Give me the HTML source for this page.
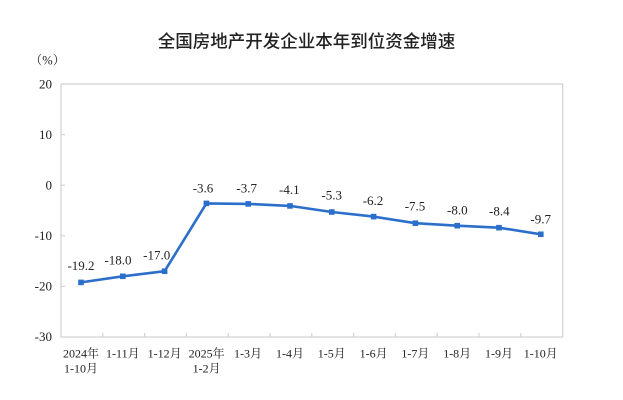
<!DOCTYPE html>
<html><head><meta charset="utf-8"><style>
html,body{margin:0;padding:0;background:#fff;}
svg{display:block;}
.t{font-family:"Liberation Serif","Noto Serif CJK SC",serif;fill:#222;}
</style></head><body>
<svg width="623" height="400" viewBox="0 0 623 400" xmlns="http://www.w3.org/2000/svg">
<rect x="0" y="0" width="623" height="400" fill="#fff"/>
<text x="306.5" y="47.5" text-anchor="middle" font-family="'Liberation Sans','Noto Sans CJK SC',sans-serif" font-size="17.5" font-weight="500" fill="#222">全国房地产开发企业本年到位资金增速</text>
<text x="47.5" y="64.5" text-anchor="middle" class="t" font-size="12.5">（%）</text>
<!-- plot frame -->
<rect x="61" y="84" width="501.7" height="253" fill="none" stroke="#d4d4d4" stroke-width="1.3"/>
<!-- y ticks -->
<g stroke="#d4d4d4" stroke-width="1.2">
<line x1="61" y1="134.6" x2="65" y2="134.6"/>
<line x1="61" y1="185.2" x2="65" y2="185.2"/>
<line x1="61" y1="235.8" x2="65" y2="235.8"/>
<line x1="61" y1="286.4" x2="65" y2="286.4"/>
<line x1="102.8" y1="337" x2="102.8" y2="333"/>
<line x1="144.6" y1="337" x2="144.6" y2="333"/>
<line x1="186.4" y1="337" x2="186.4" y2="333"/>
<line x1="228.2" y1="337" x2="228.2" y2="333"/>
<line x1="270" y1="337" x2="270" y2="333"/>
<line x1="311.8" y1="337" x2="311.8" y2="333"/>
<line x1="353.6" y1="337" x2="353.6" y2="333"/>
<line x1="395.4" y1="337" x2="395.4" y2="333"/>
<line x1="437.2" y1="337" x2="437.2" y2="333"/>
<line x1="479" y1="337" x2="479" y2="333"/>
<line x1="520.8" y1="337" x2="520.8" y2="333"/>
</g>
<g class="t" font-size="13" text-anchor="end">
<text x="52" y="88.5">20</text>
<text x="52" y="139">10</text>
<text x="52" y="189.5">0</text>
<text x="52" y="240">-10</text>
<text x="52" y="290.5">-20</text>
<text x="52" y="341">-30</text>
</g>
<!-- x labels -->
<g class="t" font-size="12" text-anchor="middle">
<text x="81" y="357.5">2024年</text>
<text x="81" y="372.5">1-10月</text>
<text x="122.8" y="357.5">1-11月</text>
<text x="164.6" y="357.5">1-12月</text>
<text x="206.6" y="357.5">2025年</text>
<text x="206.6" y="372.5">1-2月</text>
<text x="248" y="357.5">1-3月</text>
<text x="290" y="357.5">1-4月</text>
<text x="331.8" y="357.5">1-5月</text>
<text x="373.6" y="357.5">1-6月</text>
<text x="415.4" y="357.5">1-7月</text>
<text x="457.2" y="357.5">1-8月</text>
<text x="499" y="357.5">1-9月</text>
<text x="540.8" y="357.5">1-10月</text>
</g>
<!-- series -->
<polyline fill="none" stroke="#2b6fcb" stroke-width="2.6" stroke-linejoin="round"
points="81,282.4 122.8,276.3 164.6,271.2 206.4,203.4 248.2,203.9 290,205.9 331.8,212 373.6,216.6 415.4,223.2 457.2,225.7 499,227.7 540.8,234.3"/>
<g fill="#2b6fcb">
<rect x="78.2" y="279.6" width="5.6" height="5.6"/>
<rect x="120" y="273.5" width="5.6" height="5.6"/>
<rect x="161.8" y="268.4" width="5.6" height="5.6"/>
<rect x="203.6" y="200.6" width="5.6" height="5.6"/>
<rect x="245.4" y="201.1" width="5.6" height="5.6"/>
<rect x="287.2" y="203.1" width="5.6" height="5.6"/>
<rect x="329" y="209.2" width="5.6" height="5.6"/>
<rect x="370.8" y="213.8" width="5.6" height="5.6"/>
<rect x="412.6" y="220.4" width="5.6" height="5.6"/>
<rect x="454.4" y="222.9" width="5.6" height="5.6"/>
<rect x="496.2" y="224.9" width="5.6" height="5.6"/>
<rect x="538" y="231.5" width="5.6" height="5.6"/>
</g>
<!-- data labels -->
<g class="t" font-size="13" text-anchor="middle">
<text x="81" y="270">-19.2</text>
<text x="118" y="264.5">-18.0</text>
<text x="156.7" y="259.5">-17.0</text>
<text x="203" y="192.5">-3.6</text>
<text x="246.7" y="192.5">-3.7</text>
<text x="289.3" y="194">-4.1</text>
<text x="331.7" y="199.5">-5.3</text>
<text x="373" y="205">-6.2</text>
<text x="415" y="210.5">-7.5</text>
<text x="457.3" y="214.5">-8.0</text>
<text x="499.3" y="215.5">-8.4</text>
<text x="540.7" y="223.5">-9.7</text>
</g>
</svg>
</body></html>
